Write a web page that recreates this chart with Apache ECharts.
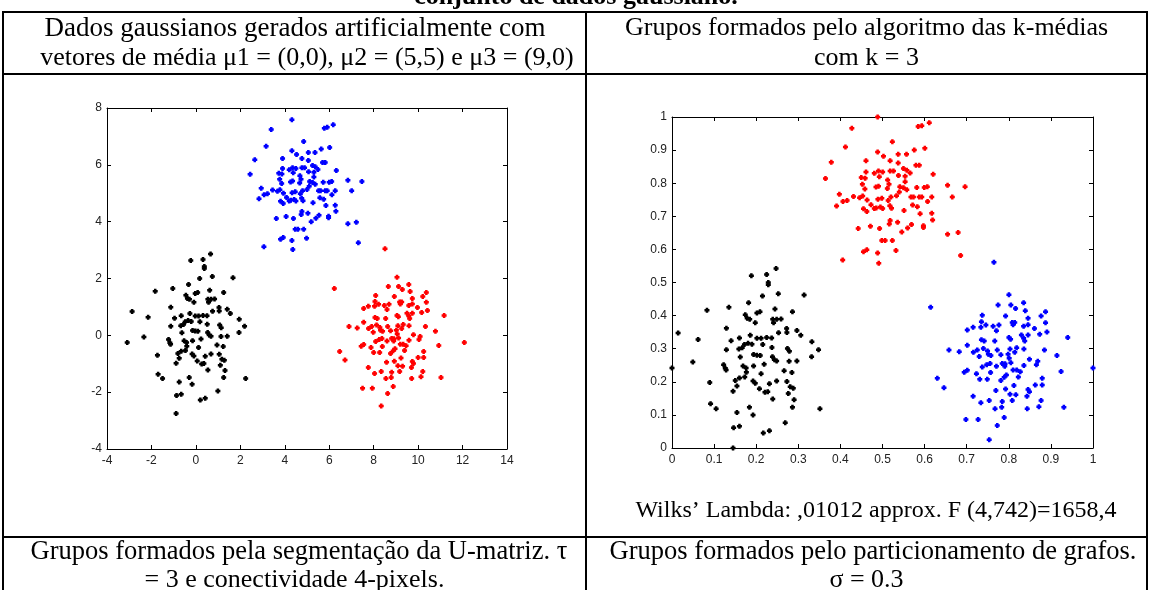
<!DOCTYPE html>
<html>
<head>
<meta charset="utf-8">
<script src="https://cdn.jsdelivr.net/npm/echarts@6/dist/echarts.min.js"></script>
<style>
  html, body { margin: 0; padding: 0; background: #ffffff; }
  #chart { width: 1149px; height: 590px; }
</style>
</head>
<body>
<div id="chart"></div>
<script>
// Amostras gaussianas (x, y) por grupo de origem
const grupoPreto = [
  [0.66,2.86],[-0.23,2.63],[0.32,2.67],[0.38,2.42],[0.38,2.35],[0.74,2.07],[1.67,2.03],[0.17,2.0],
  [-0.33,1.79],[-1.04,1.65],[-1.83,1.55],[0.62,1.59],[-0.03,1.47],[0.08,1.51],[1.25,1.51],[-0.45,1.41],
  [-0.38,1.30],[-0.29,1.27],[0.54,1.27],[0.68,1.27],[0.84,1.28],[0.57,1.16],[-0.09,1.16],[-1.13,0.99],
  [1.04,0.98],[1.41,0.92],[-2.87,0.84],[0.75,0.85],[1.05,0.86],[1.55,0.77],[-0.27,0.77],[-0.66,0.69],
  [-2.15,0.64],[-0.96,0.60],[-0.03,0.68],[0.12,0.68],[0.32,0.70],[0.50,0.69],[-0.48,0.48],[-0.35,0.52],
  [-0.21,0.49],[0.18,0.48],[1.95,0.57],[-0.68,0.34],[-0.56,0.38],[-1.13,0.32],[0.51,0.39],[1.07,0.36],
  [1.14,0.27],[2.19,0.32],[-0.15,0.17],[-0.03,0.15],[0.09,0.14],[-0.63,0.09],[0.53,0.10],[0.60,0.01],
  [0.68,-0.03],[1.13,-0.04],[1.41,-0.03],[1.94,0.10],[-2.34,-0.06],[-3.09,-0.25],[-1.23,-0.15],[-1.17,-0.26],
  [-0.53,-0.19],[-0.42,-0.25],[-0.15,-0.19],[0.23,-0.13],[-1.14,-0.31],[-0.41,-0.38],[0.12,-0.43],[0.95,-0.34],
  [1.23,-0.39],[-0.66,-0.56],[-0.81,-0.64],[-0.47,-0.53],[-0.17,-0.66],[-0.09,-0.73],[0.68,-0.66],[1.05,-0.67],
  [-1.73,-0.70],[0.42,-0.74],[-0.75,-0.81],[0.06,-0.90],[-0.89,-0.98],[0.26,-1.01],[0.36,-0.99],[1.17,-0.84],
  [1.28,-0.88],[1.10,-1.05],[0.54,-1.22],[1.31,-1.24],[-1.70,-1.37],[-1.50,-1.52],[-0.30,-1.48],[1.25,-1.48],
  [2.24,-1.52],[-0.75,-1.64],[-0.17,-1.72],[0.99,-1.96],[-0.66,-2.07],[-0.87,-2.12],[0.42,-2.21],[0.20,-2.28],
  [-0.89,-2.75]
];
const grupoAzul = [
  [4.32,7.59],[3.39,7.24],[6.18,7.41],[5.78,7.29],[5.91,7.32],[4.85,6.82],[3.16,6.65],[5.64,6.56],
  [6.02,6.61],[4.32,6.50],[4.53,6.36],[5.06,6.43],[5.36,6.43],[2.65,6.18],[3.90,6.22],[4.77,6.22],
  [5.06,6.15],[5.70,6.08],[5.82,6.08],[5.25,5.98],[5.37,5.93],[5.49,5.84],[4.35,5.90],[4.50,5.87],
  [4.77,5.90],[4.89,5.90],[3.90,5.87],[4.20,5.83],[6.32,5.80],[5.07,5.76],[5.31,5.74],[2.44,5.67],
  [3.73,5.70],[3.87,5.68],[4.38,5.72],[4.68,5.62],[5.31,5.57],[3.77,5.49],[4.73,5.49],[6.84,5.46],
  [7.47,5.41],[4.26,5.40],[4.35,5.43],[4.67,5.36],[5.12,5.41],[5.25,5.38],[5.73,5.39],[6.00,5.39],
  [6.11,5.41],[3.86,5.34],[5.10,5.25],[5.37,5.32],[2.94,5.18],[3.45,5.11],[3.67,5.07],[3.78,5.12],
  [4.47,5.05],[4.80,5.09],[5.00,5.13],[5.52,5.09],[5.61,5.09],[5.82,5.09],[5.91,5.09],[6.27,5.09],
  [7.01,5.09],[3.07,4.95],[3.22,4.98],[3.94,5.00],[4.33,5.02],[4.70,4.98],[4.08,4.85],[4.27,4.75],
  [4.42,4.78],[4.50,4.73],[4.76,4.82],[4.82,4.74],[5.58,4.84],[5.75,4.79],[6.12,4.95],[2.84,4.81],
  [3.81,4.72],[3.93,4.64],[4.20,4.73],[5.27,4.67],[5.85,4.57],[6.27,4.58],[4.77,4.36],[4.74,4.25],
  [5.04,4.30],[6.30,4.37],[3.62,4.11],[4.06,4.18],[4.39,4.11],[5.19,4.00],[5.40,4.12],[5.54,4.23],
  [5.97,4.19],[5.97,4.14],[6.84,3.93],[7.22,3.98],[4.47,3.73],[4.59,3.73],[4.85,3.73],[3.81,3.38],
  [3.93,3.44],[4.98,3.42],[4.32,3.34],[3.06,3.12],[4.36,3.02],[7.31,3.26]
];
const grupoVermelho = [
  [8.51,3.05],[6.23,1.65],[9.05,2.04],[8.66,1.72],[9.12,1.72],[9.58,1.79],[9.29,1.61],[9.64,1.54],
  [10.37,1.51],[8.09,1.40],[8.93,1.37],[10.21,1.37],[8.06,1.19],[9.17,1.17],[9.26,1.17],[9.20,1.10],
  [9.74,1.30],[9.74,1.10],[10.37,1.16],[8.22,1.09],[8.48,1.05],[8.69,1.09],[7.55,0.94],[7.76,1.02],
  [8.04,1.02],[9.58,1.05],[9.97,0.98],[8.60,0.91],[10.42,0.87],[10.16,0.80],[9.50,0.78],[9.74,0.78],
  [9.05,0.70],[9.11,0.65],[9.58,0.68],[9.62,0.59],[11.17,0.70],[8.06,0.63],[8.16,0.59],[8.54,0.59],
  [7.55,0.46],[6.89,0.31],[7.26,0.26],[8.13,0.36],[9.33,0.38],[7.77,0.24],[7.91,0.31],[8.28,0.28],
  [8.63,0.31],[9.09,0.34],[9.59,0.34],[10.33,0.31],[7.98,0.11],[8.31,0.18],[8.40,0.14],[8.76,0.16],
  [9.02,0.18],[9.26,0.24],[9.06,0.05],[10.78,0.14],[9.79,0.02],[10.09,-0.04],[8.60,-0.20],[8.81,-0.11],
  [8.91,-0.12],[9.12,-0.09],[8.25,-0.15],[8.37,-0.11],[8.09,-0.22],[9.59,-0.17],[10.04,-0.15],[8.90,-0.20],
  [12.08,-0.25],[10.93,-0.36],[7.44,-0.38],[7.55,-0.32],[7.88,-0.43],[8.39,-0.39],[9.20,-0.31],[9.33,-0.31],
  [9.46,-0.37],[8.96,-0.47],[8.88,-0.54],[9.39,-0.53],[8.76,-0.64],[6.47,-0.57],[8.00,-0.60],[8.27,-0.60],
  [10.25,-0.57],[10.00,-0.78],[10.25,-0.78],[9.23,-0.80],[9.74,-0.92],[9.79,-0.99],[6.71,-0.87],[8.93,-0.91],
  [8.58,-0.95],[9.09,-1.07],[9.30,-1.09],[9.70,-1.13],[7.76,-1.13],[8.34,-1.27],[8.81,-1.30],[9.17,-1.27],
  [10.21,-1.27],[8.04,-1.34],[8.55,-1.52],[8.79,-1.48],[9.71,-1.52],[10.13,-1.46],[11.03,-1.48],[8.88,-1.80],
  [7.50,-1.86],[7.94,-1.86],[8.63,-2.05],[8.34,-2.49]
];

// Escalas dos eixos
const eixoGaussX = { min: -4, max: 14, passo: 2 };
const eixoGaussY = { min: -4, max: 8, passo: 2 };
const eixoNormX = { min: 0, max: 1, passo: 0.1 };
const eixoNormY = { min: 0, max: 1, passo: 0.1 };

// Textos da tabela
const tituloFigura = 'conjunto de dados gaussiano.';
const cabecalhoEsq = ['Dados gaussianos gerados artificialmente com', 'vetores de média μ1 = (0,0), μ2 = (5,5) e μ3 = (9,0)'];
const cabecalhoDir = ['Grupos formados pelo algoritmo das k-médias', 'com k = 3'];
const notaWilks = 'Wilks’ Lambda: ,01012 approx. F (4,742)=1658,4';
const rodapeEsq = ['Grupos formados pela segmentação da U-matriz. τ', '= 3 e conectividade 4-pixels.'];
const rodapeDir = ['Grupos formados pelo particionamento de grafos.', 'σ = 0.3'];

// O k-médias trabalha sobre os mesmos dados reescalados para [0,1]
const todos = grupoPreto.concat(grupoAzul, grupoVermelho);
const xMin = Math.min(...todos.map(p => p[0])), xMax = Math.max(...todos.map(p => p[0]));
const yMin = Math.min(...todos.map(p => p[1])), yMax = Math.max(...todos.map(p => p[1]));
const normalizar = pts => pts.map(([x, y]) => [(x - xMin) / (xMax - xMin), (y - yMin) / (yMax - yMin)]);

const marcador = 'path://M1,0H3V1H4V3H3V4H1V3H0V1H1Z';

function eixo(gridIndex, position, escala, comRotulos) {
  return {
    type: 'value', gridIndex, position,
    min: escala.min, max: escala.max, interval: escala.passo,
    axisLine: { show: true, onZero: false, lineStyle: { color: '#000', width: 1 } },
    axisTick: { show: true, inside: true, length: 4, lineStyle: { color: '#000', width: 1 } },
    axisLabel: {
      show: comRotulos, color: '#222', fontFamily: 'Liberation Sans', fontSize: 12,
      margin: (position === 'bottom' || position === 'top') ? 6 : 5,
      showMinLabel: true, showMaxLabel: true
    },
    splitLine: { show: false }
  };
}

function serie(dados, cor, xi, yi) {
  return {
    type: 'scatter', data: dados, xAxisIndex: xi, yAxisIndex: yi,
    symbol: marcador, symbolSize: 5, silent: true,
    itemStyle: { color: cor, opacity: 1 }
  };
}

const fonteSerif = '"Liberation Serif", "Times New Roman", serif';
function texto(x, y, t, tamanho, negrito) {
  return {
    type: 'text', x, y, silent: true,
    style: {
      text: t, font: (negrito ? 'bold ' : '') + tamanho + 'px ' + fonteSerif, fill: '#000',
      align: 'center', verticalAlign: 'middle', textAlign: 'center', textVerticalAlign: 'middle'
    }
  };
}
function linha(x1, y1, x2, y2) {
  return { type: 'line', silent: true, shape: { x1, y1, x2, y2 }, style: { stroke: '#000', lineWidth: 2 } };
}

const colEsq = 294.5, colDir = 866.5;

const option = {
  backgroundColor: '#ffffff',
  animation: false,
  grid: [
    { left: 107, top: 108, width: 400, height: 341 },
    { left: 672, top: 117, width: 421, height: 331 }
  ],
  xAxis: [
    eixo(0, 'bottom', eixoGaussX, true),
    eixo(0, 'top', eixoGaussX, false),
    eixo(1, 'bottom', eixoNormX, true),
    eixo(1, 'top', eixoNormX, false)
  ],
  yAxis: [
    eixo(0, 'left', eixoGaussY, true),
    eixo(0, 'right', eixoGaussY, false),
    eixo(1, 'left', eixoNormY, true),
    eixo(1, 'right', eixoNormY, false)
  ],
  series: [
    serie(grupoPreto, '#000000', 0, 0),
    serie(grupoAzul, '#0000ff', 0, 0),
    serie(grupoVermelho, '#ff0000', 0, 0),
    serie(normalizar(grupoPreto), '#000000', 2, 2),
    serie(normalizar(grupoAzul), '#ff0000', 2, 2),
    serie(normalizar(grupoVermelho), '#0000ff', 2, 2)
  ],
  graphic: [
    texto(576, -3, tituloFigura, 26, true),
    linha(2, 12, 1148, 12),
    linha(2, 74, 1148, 74),
    linha(2, 537, 1148, 537),
    linha(3, 11, 3, 590),
    linha(586, 11, 586, 590),
    linha(1147, 11, 1147, 590),
    texto(295, 28.5, cabecalhoEsq[0], 27),
    texto(307, 58, cabecalhoEsq[1], 26),
    texto(colDir, 28.5, cabecalhoDir[0], 26),
    texto(colDir, 58, cabecalhoDir[1], 26),
    texto(876, 511, notaWilks, 24),
    texto(299, 552, rodapeEsq[0], 26.5),
    texto(colEsq, 580, rodapeEsq[1], 26),
    texto(873, 552, rodapeDir[0], 26.5),
    texto(colDir, 580, rodapeDir[1], 26)
  ]
};

const grafico = echarts.init(document.getElementById('chart'), null, { renderer: 'canvas' });
grafico.setOption(option);
</script>
</body>
</html>
